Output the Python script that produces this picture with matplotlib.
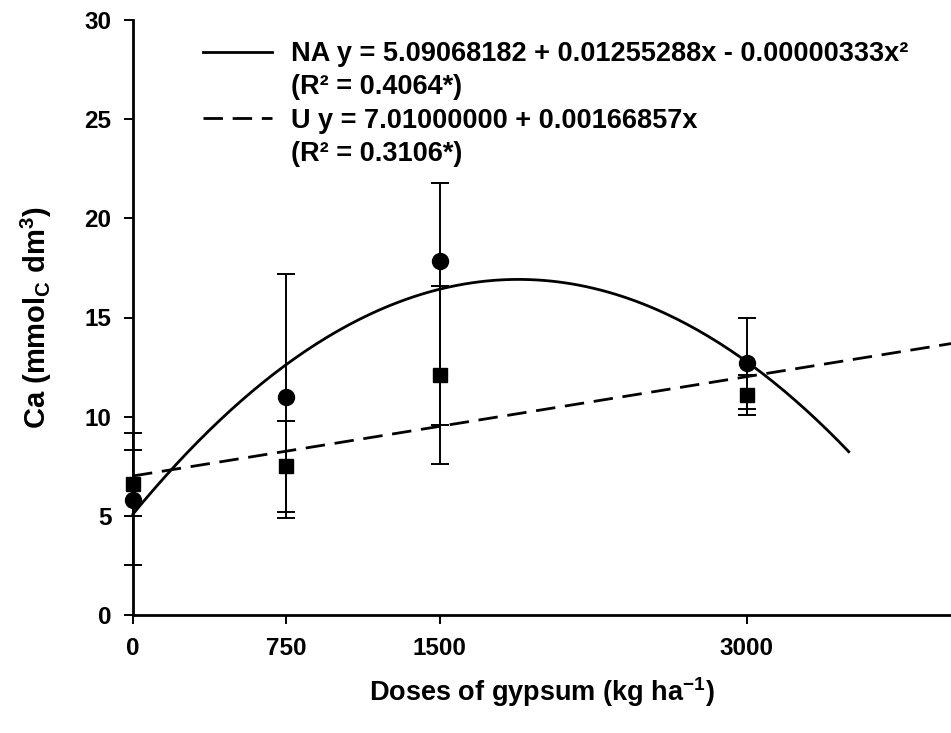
import numpy as np
import matplotlib
matplotlib.use("Agg")
import matplotlib.pyplot as plt
from matplotlib.lines import Line2D

plt.rcParams['font.family'] = ['Liberation Sans', 'DejaVu Sans']
plt.rcParams['font.weight'] = 'bold'
plt.rcParams['mathtext.default'] = 'regular'
plt.rcParams['axes.unicode_minus'] = False

# gypsum doses (kg/ha)
doses = [0, 750, 1500, 3000]

# NA: means and error bar ends (lower, upper)
na_mean = [5.8, 11.0, 17.85, 12.7]
na_low = [2.5, 4.9, 9.6, 10.4]
na_high = [9.2, 17.2, 21.8, 15.0]

# U: means and error bar ends
u_mean = [6.6, 7.5, 12.1, 11.1]
u_low = [5.0, 5.2, 7.6, 10.1]
u_high = [8.3, 9.8, 16.6, 12.1]

# regression coefficients
na_coef = [5.09068182, 0.01255288, -0.00000333]
u_coef = [7.01000000, 0.00166857]
na_label = "NA y = 5.09068182 + 0.01255288x - 0.00000333x²"
na_r2 = "(R² = 0.4064*)"
u_label = "U y = 7.01000000 + 0.00166857x"
u_r2 = "(R² = 0.3106*)"

fig = plt.figure(figsize=(9.51, 7.33), dpi=100)
ax = fig.add_axes([133 / 951, 1 - 615 / 733, 1 - 133 / 951, (615 - 20) / 733])

# fitted curves
xa = np.linspace(0, 3500, 200)
ax.plot(xa, na_coef[0] + na_coef[1] * xa + na_coef[2] * xa ** 2,
        color='black', lw=2.0, clip_on=False)
xb = np.linspace(0, 4000, 200)
ax.plot(xb, u_coef[0] + u_coef[1] * xb, color='black', lw=2.0,
        dashes=(7, 3.5), clip_on=False)

# error bars and points
na_err = [np.array(na_mean) - np.array(na_low), np.array(na_high) - np.array(na_mean)]
u_err = [np.array(u_mean) - np.array(u_low), np.array(u_high) - np.array(u_mean)]
ax.errorbar(doses, na_mean, yerr=na_err, fmt='o', color='black', ms=11.5,
            ecolor='black', elinewidth=1.4, capsize=6.5, capthick=1.4,
            clip_on=False, zorder=3)
ax.errorbar(doses, u_mean, yerr=u_err, fmt='s', color='black', ms=10,
            ecolor='black', elinewidth=1.4, capsize=6.5, capthick=1.4,
            clip_on=False, zorder=3)

ax.set_xlim(0, 4000)
ax.set_ylim(0, 30)
ax.set_xticks(doses)
ax.set_xticklabels([str(d) for d in doses])
ax.set_yticks(range(0, 31, 5))
ax.spines['top'].set_visible(False)
ax.spines['right'].set_visible(False)
ax.spines['left'].set_linewidth(2.0)
ax.spines['bottom'].set_linewidth(2.0)
ax.tick_params(axis='both', length=6.5, width=1.4, labelsize=17.5)
ax.tick_params(axis='y', pad=9)
ax.tick_params(axis='x', pad=9)

ax.set_xlabel("Doses of gypsum (kg ha$^{-1}$)", fontsize=19.5, fontweight='bold', labelpad=11)
ax.set_ylabel("Ca (mmol$_C$ dm$^3$)", fontsize=21, fontweight='bold', labelpad=22)

handles = [Line2D([], [], color='black', lw=2.0),
           Line2D([], [], color='none'),
           Line2D([], [], color='black', lw=2.0, dashes=(7, 3.5)),
           Line2D([], [], color='none')]
labels = [na_label, na_r2, u_label, u_r2]
fig.legend(handles, labels, loc='upper left', bbox_to_anchor=(203 / 951, 1 - 41 / 733),
           frameon=False, borderpad=0, borderaxespad=0, handlelength=2.55,
           handletextpad=0.7, labelspacing=0.27, prop={'size': 19.5, 'weight': 'bold'})

fig.savefig("out.png", dpi=100)
